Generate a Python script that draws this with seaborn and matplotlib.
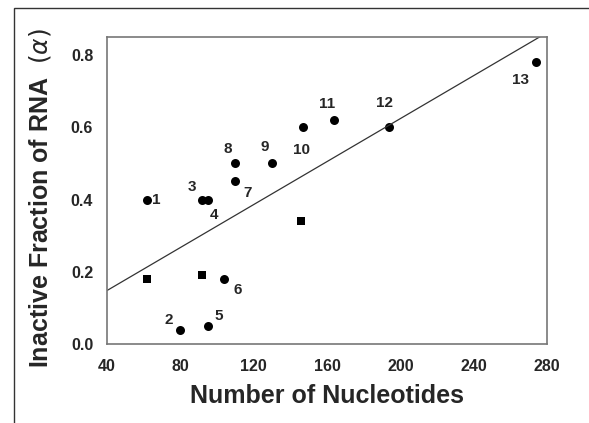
import numpy as np
import pandas as pd
import matplotlib
matplotlib.use("Agg")
import matplotlib.pyplot as plt
import matplotlib.patches as patches
import seaborn as sns

# numbered RNA constructs (circles)
circle_labels = ["1", "2", "3", "4", "5", "6", "7", "8", "9", "10", "11", "12", "13"]
circle_x = [62, 80, 92, 95, 95, 104, 110, 110, 130, 147, 164, 194, 274]
circle_y = [0.40, 0.04, 0.40, 0.40, 0.05, 0.18, 0.45, 0.50, 0.50, 0.60, 0.62, 0.60, 0.78]

# unnumbered constructs (squares)
square_x = [62, 92, 146]
square_y = [0.18, 0.19, 0.34]

# fitted line endpoints
line_x = [40, 280]
line_y = [0.148, 0.862]

x_ticks = [40, 80, 120, 160, 200, 240, 280]
y_ticks = [0.0, 0.2, 0.4, 0.6, 0.8]

# label offsets in pixels (dx, dy)
label_off = [(9, 0), (-12, 10), (-10, 13), (6, -15), (11, 10), (13, -11), (12, -12),
             (-8, 14), (-7, 16), (-2, -23), (-7, 16), (-5, 24), (-16, -18)]

sns.set_style("white")
plt.rcParams['font.family'] = ['Liberation Sans', 'DejaVu Sans']
plt.rcParams['mathtext.fontset'] = 'dejavusans'

circles = pd.DataFrame({"n": circle_x, "frac": circle_y})
squares = pd.DataFrame({"n": square_x, "frac": square_y})

fig = plt.figure(figsize=(5.89, 4.23), dpi=100)
ax = fig.add_axes([0.1817, 0.1868, 0.747, 0.7258])

# outer frame of the original figure
fig.patches.append(patches.Rectangle((14 / 589, -0.1), 1.2, 1 - 8 / 423 + 0.1,
                                     transform=fig.transFigure, fill=False,
                                     edgecolor="#333333", linewidth=1.0))

ax.plot(line_x, line_y, color="#333333", linewidth=0.9)
sns.scatterplot(data=circles, x="n", y="frac", ax=ax, marker="o", s=42,
                color="black", edgecolor="black", linewidth=0)
sns.scatterplot(data=squares, x="n", y="frac", ax=ax, marker="s", s=38,
                color="black", edgecolor="black", linewidth=0)

for lab, xx, yy, off in zip(circle_labels, circle_x, circle_y, label_off):
    ax.annotate(lab, (xx, yy), xytext=off, textcoords="offset pixels",
                ha="center", va="center", fontsize=11, fontweight="bold")

ax.set_xlim(40, 280)
ax.set_ylim(0, 0.85)
ax.set_xticks(x_ticks)
ax.set_yticks(y_ticks)
ax.set_yticklabels([f"{v:.1f}" for v in y_ticks])
ax.tick_params(direction="out", length=4, width=1, color="#666666",
               labelsize=11.5)
ax.tick_params(axis="x", pad=7)
ax.tick_params(axis="y", pad=6)
for lbl in ax.get_xticklabels() + ax.get_yticklabels():
    lbl.set_fontweight("bold")
for sp in ax.spines.values():
    sp.set_color("#777777")
    sp.set_linewidth(1.2)

ax.set_xlabel("Number of Nucleotides", fontsize=18, fontweight="bold", labelpad=7)
ax.set_ylabel("Inactive Fraction of RNA  $(\\alpha)$", fontsize=18, fontweight="bold")
ax.yaxis.label.set_va("center")
ax.yaxis.set_label_coords(-0.152, 0.477)

fig.savefig("out.png", dpi=100)
